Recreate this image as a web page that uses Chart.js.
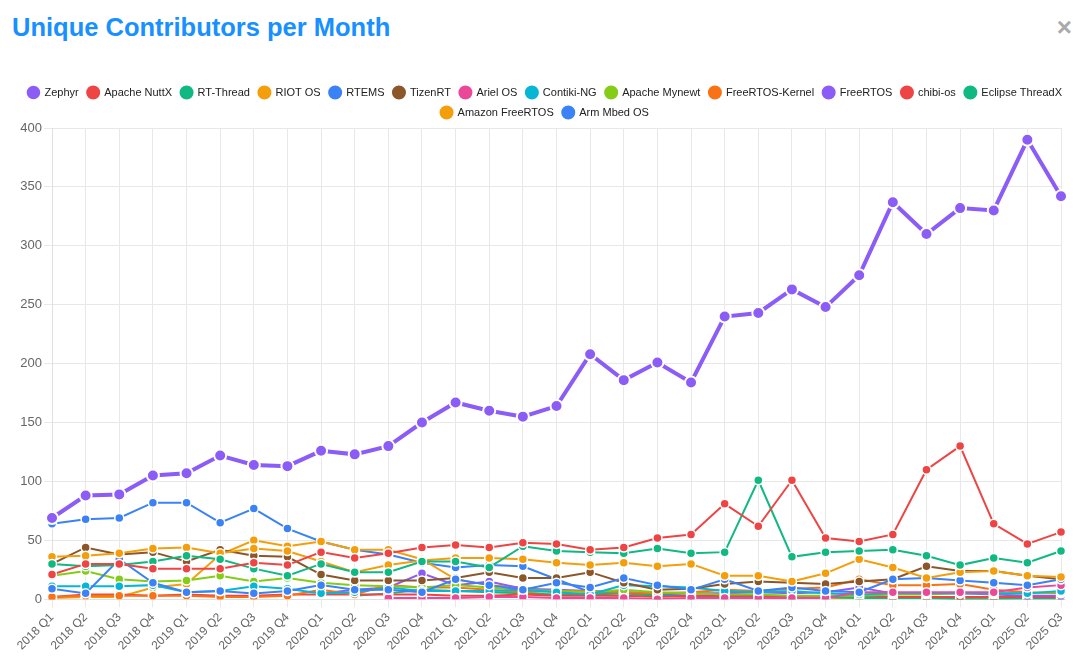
<!DOCTYPE html>
<html>
<head>
<meta charset="utf-8">
<script src="https://cdn.jsdelivr.net/npm/chart.js"></script>
<style>
  html, body { margin: 0; padding: 0; background: #fff; }
  body { width: 1080px; height: 656px; position: relative; overflow: hidden; font-family: "Liberation Sans", Arial, sans-serif; }
  #title { position: absolute; left: 12px; top: 13px; margin: 0; font-size: 25.5px; font-weight: bold; color: #1890ff; }
  #close { position: absolute; right: 8px; top: 12px; font-size: 26px; font-weight: bold; color: #aaa; }
  #wrap { position: absolute; left: 0; top: 78px; width: 1080px; height: 578px; }
</style>
</head>
<body>
<h2 id="title">Unique Contributors per Month</h2>
<span id="close">×</span>
<div id="wrap"><canvas id="contribChart"></canvas></div>
<script>
var quarters = ["2018 Q1", "2018 Q2", "2018 Q3", "2018 Q4", "2019 Q1", "2019 Q2", "2019 Q3", "2019 Q4",
    "2020 Q1", "2020 Q2", "2020 Q3", "2020 Q4", "2021 Q1", "2021 Q2", "2021 Q3", "2021 Q4",
    "2022 Q1", "2022 Q2", "2022 Q3", "2022 Q4", "2023 Q1", "2023 Q2", "2023 Q3", "2023 Q4",
    "2024 Q1", "2024 Q2", "2024 Q3", "2024 Q4", "2025 Q1", "2025 Q2", "2025 Q3"];

var zephyr = [69, 88, 89, 105, 107, 122, 114, 113, 126, 123, 130, 150, 167, 160, 155, 164, 208, 186, 201, 184, 240, 243, 263, 248, 275, 337, 310, 332, 330, 390, 342];
var nuttx = [21, 30, 30, 26, 26, 26, 31, 29, 40, 35, 39, 44, 46, 44, 48, 47, 42, 44, 52, 55, 81, 62, 101, 52, 49, 55, 110, 130, 64, 47, 57];
var rtThread = [30, 28, 29, 32, 37, 34, 26, 20, 30, 23, 23, 32, 32, 27, 45, 41, 40, 39, 43, 39, 40, 101, 36, 40, 41, 42, 37, 29, 35, 31, 41];
var riotOs = [36, 37, 39, 43, 44, 39, 43, 41, 32, 23, 29, 33, 35, 35, 34, 31, 29, 31, 28, 30, 20, 20, 15, 22, 34, 27, 18, 23, 24, 20, 19];
var rtems = [9, 5, 34, 14, 6, 7, 5, 7, 12, 8, 8, 6, 17, 12, 8, 14, 10, 18, 12, 8, 17, 7, 10, 7, 6, 17, 18, 16, 14, 12, 17];
var tizenRt = [30, 44, 38, 40, 32, 42, 37, 36, 21, 16, 16, 16, 18, 23, 18, 18, 23, 14, 8, 9, 13, 15, 14, 13, 15, 17, 28, 24, 24, 20, 17];
var arielOs = [null, null, null, null, null, null, null, null, null, null, 1, 1, 1, 2, 2, 1, 1, 1, 0, 1, 1, 1, 1, 1, 6, 6, 6, 6, 6, 10, 12];
var contikiNg = [11, 11, 11, 12, 6, 7, 11, 9, 5, 6, 10, 7, 7, 7, 8, 6, 4, 12, 11, 10, 7, 6, 7, 5, 4, 5, 5, 5, 5, 5, 7];
var mynewt = [20, 24, 17, 15, 16, 20, 15, 18, 14, 12, 11, 10, 12, 10, 8, 7, 6, 8, 6, 5, 4, 4, 3, 3, 3, 4, 4, 5, 5, 5, 6];
var freertosKernel = [2, 3, 3, 3, 3, 2, 2, 3, 8, 4, 12, 10, 10, 8, 6, 7, 7, 6, 5, 6, 8, 7, 9, 10, 17, 12, 12, 13, 8, 6, 5];
var freertos = [null, null, null, null, null, null, null, null, 5, 8, 10, 22, 12, 15, 9, 8, 7, 6, 5, 5, 5, 6, 5, 6, 10, 5, 5, 5, 4, 3, 3];
var chibiOs = [2, 4, 4, 3, 4, 3, 3, 4, 4, 4, 4, 4, 3, 3, 4, 3, 3, 3, 2, 3, 3, 3, 2, 3, 3, 2, 2, 2, 2, 2, 2];
var threadX = [null, null, null, null, null, null, null, null, null, 3, 5, 8, 7, 6, 5, 4, 4, 5, 3, 3, 2, 2, 2, 2, 1, 1, 1, 0, 0, 1, 1];
var amazonFreertos = [1, 2, 2, 10, 13, 38, 50, 45, 49, 42, 42, 34, 17, 12, 10, 6, 4, 3, 3, 2, 2, 2, 1, 1, 1, 1, 1, 0, 0, 0, 0];
var armMbed = [64, 68, 69, 82, 82, 65, 77, 60, 49, 42, 38, 31, 27, 29, 28, 17, 6, 5, 4, 3, 3, 2, 2, 1, 1, 1, 1, 0, 0, 0, 0];

var yTicks = [0, 50, 100, 150, 200, 250, 300, 350, 400];

function makeSet(name, values, color, main) {
    return {
        label: name,
        data: values,
        borderColor: color,
        backgroundColor: color,
        pointBackgroundColor: color,
        pointBorderColor: '#fff',
        pointBorderWidth: main ? 2 : 1.5,
        pointRadius: main ? 6 : 4.5,
        borderWidth: main ? 4 : 2,
        tension: 0,
        spanGaps: false
    };
}

var ctx = document.getElementById("contribChart").getContext("2d");
var contribData = {
    labels: quarters,
    datasets: [
        makeSet("Zephyr", zephyr, '#8b5cf6', true),
        makeSet("Apache NuttX", nuttx, '#ef4444'),
        makeSet("RT-Thread", rtThread, '#10b981'),
        makeSet("RIOT OS", riotOs, '#f59e0b'),
        makeSet("RTEMS", rtems, '#3b82f6'),
        makeSet("TizenRT", tizenRt, '#8b572a'),
        makeSet("Ariel OS", arielOs, '#ec4899'),
        makeSet("Contiki-NG", contikiNg, '#06b6d4'),
        makeSet("Apache Mynewt", mynewt, '#84cc16'),
        makeSet("FreeRTOS-Kernel", freertosKernel, '#f97316'),
        makeSet("FreeRTOS", freertos, '#8b5cf6'),
        makeSet("chibi-os", chibiOs, '#ef4444'),
        makeSet("Eclipse ThreadX", threadX, '#10b981'),
        makeSet("Amazon FreeRTOS", amazonFreertos, '#f59e0b'),
        makeSet("Arm Mbed OS", armMbed, '#3b82f6')
    ]
};

var chartOptions = {
    responsive: true,
    maintainAspectRatio: false,
    animation: false,
    layout: { padding: { left: 10, right: 0, top: 0, bottom: 0 } },
    plugins: {
        legend: {
            display: true,
            position: 'top',
            labels: {
                usePointStyle: true,
                pointStyle: 'circle',
                color: '#222',
                padding: 9,
                font: { size: 11, family: "'Liberation Sans', Arial, sans-serif" }
            }
        },
        tooltip: { enabled: false }
    },
    scales: {
        x: {
            grid: { color: '#e8e8e8' },
            border: { color: '#e0e0e0' },
            afterFit: function (axis) {
                axis.paddingRight = 19;
            },
            ticks: {
                autoSkip: false,
                maxRotation: 45,
                minRotation: 45,
                color: '#666',
                font: { size: 12, family: "'Liberation Sans', Arial, sans-serif" }
            }
        },
        y: {
            min: 0,
            max: 400,
            grid: { color: '#e8e8e8' },
            border: { color: '#e0e0e0' },
            afterBuildTicks: function (axis) {
                axis.ticks = yTicks.map(function (v) { return { value: v }; });
            },
            afterFit: function (axis) {
                axis.width = 42;
            },
            ticks: {
                color: '#666',
                padding: 2,
                font: { size: 13, family: "'Liberation Sans', Arial, sans-serif" }
            }
        }
    }
};

var contribChart = new Chart(ctx, {
    type: 'line',
    data: contribData,
    options: chartOptions
});
</script>
</body>
</html>
